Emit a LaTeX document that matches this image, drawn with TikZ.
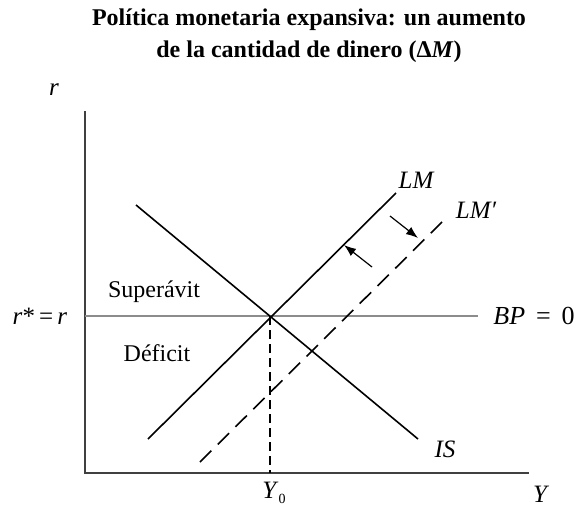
\documentclass[tikz,border=0pt]{standalone}
\usepackage{fontspec}
\setmainfont{Liberation Serif}
\usetikzlibrary{arrows.meta}
\begin{document}
\begin{tikzpicture}[x=1pt,y=-1pt,
  axisline/.style={draw=black!75,line width=1.7pt},
  bpline/.style={draw=black!45,line width=1.7pt},
  curve/.style={draw=black,line width=1.6pt},
  dashcurve/.style={draw=black,line width=1.6pt,dash pattern=on 16pt off 9pt},
  guide/.style={draw=black,line width=1.2pt,dash pattern=on 9pt off 5pt},
  shiftarrow/.style={draw=black,line width=1.2pt,-{Latex[length=12pt,width=9pt]}},
  lbl/.style={font=\fontsize{25}{28}\selectfont\itshape,inner sep=0pt},
  txt/.style={font=\fontsize{24}{27}\selectfont,inner sep=0pt}]
\useasboundingbox (0,0) rectangle (576,514);
% title
\node[font=\fontsize{24}{32}\selectfont\bfseries,align=center,inner sep=0pt] (title) at (309,36)
  {Política monetaria expansiva: un aumento\\de la cantidad de dinero (Δ\textit{M})};
% axes
\coordinate (O) at (85,473);
\coordinate (ytop) at (85,111);
\coordinate (xend) at (529,473);
\draw[axisline] (ytop) -- (O) -- (xend);
\node[lbl] (rlab) at (54,90) {r};
\node[lbl] (Ylab) at (540,494) {Y};
% BP line
\coordinate (bpL) at (85,316);
\coordinate (bpR) at (478,316);
\draw[bpline] (bpL) -- (bpR);
\node[font=\fontsize{26}{28}\selectfont,inner sep=0pt] (bplab) at (534,316) {\textit{BP}\, = \,0};
\node[font=\fontsize{25}{28}\selectfont,inner sep=0pt] (rstar) at (40,316) {\textit{r}*\,=\,\textit{r}};
% IS
\coordinate (isA) at (136,205);
\coordinate (isB) at (418,439);
\draw[curve] (isA) -- (isB);
\node[lbl] (islab) at (445,449) {IS};
% LM
\coordinate (lmA) at (148,439);
\coordinate (lmB) at (396,193);
\draw[curve] (lmA) -- (lmB);
\node[lbl] (lmlab) at (416,180) {LM};
% LM'
\coordinate (lmpA) at (200,462);
\coordinate (lmpB) at (442,222);
\draw[dashcurve] (lmpA) -- (lmpB);
\node[lbl] (lmplab) at (476,210) {LM′};
% equilibrium
\coordinate (E) at (270,316);
\coordinate (Ebase) at (270,473);
\draw[guide] (E) -- (Ebase);
\node[font=\fontsize{25}{28}\selectfont,inner sep=0pt] (Y0) at (274,493)
  {\textit{Y}\raisebox{-5pt}{\fontsize{14}{14}\selectfont 0}};
% region labels
\node[txt] (sup) at (154,292) {Superávit};
\node[txt] (def) at (157,353) {Déficit};
% shift arrows
\coordinate (a1s) at (390,216);
\coordinate (a1e) at (418,238);
\draw[shiftarrow] (a1s) -- (a1e);
\coordinate (a2s) at (372,267);
\coordinate (a2e) at (344,245);
\draw[shiftarrow] (a2s) -- (a2e);
\end{tikzpicture}
\end{document}
